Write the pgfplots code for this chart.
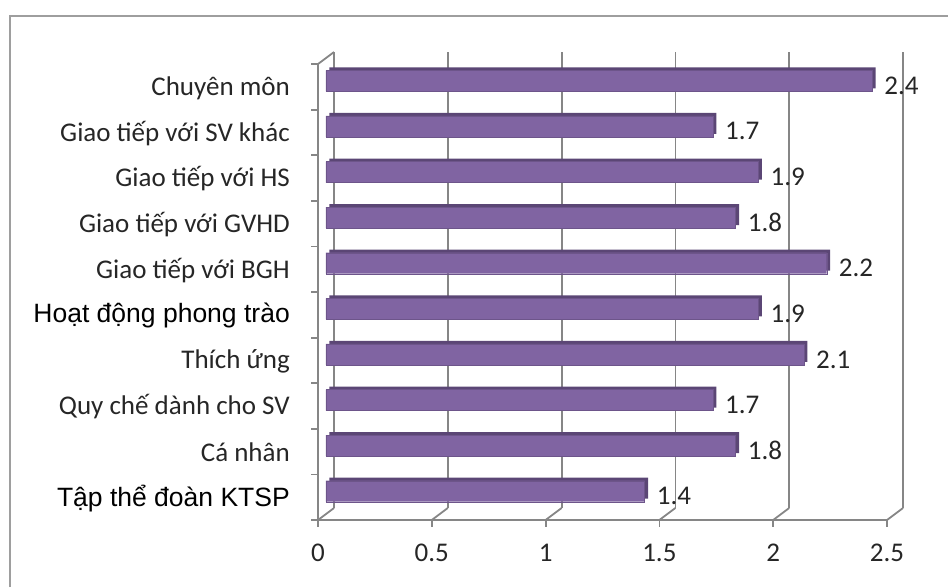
\documentclass[border=0pt]{standalone}
\usepackage{pgfplots}
\pgfplotsset{compat=1.18}
\usepackage{fontspec}
\setmainfont{Carlito}
\newfontfamily\arialf{Liberation Sans}
\definecolor{barface}{HTML}{8064A2}
\definecolor{bardark}{HTML}{5B4675}
\definecolor{gridgray}{HTML}{868686}
\definecolor{txt}{HTML}{262626}

\pgfplotstableread{
y  v
0  1.4
1  1.8
2  1.7
3  2.1
4  1.9
5  2.2
6  1.8
7  1.9
8  1.7
9  2.4
}\scores

\begin{document}
\begin{tikzpicture}
\useasboundingbox (0pt,0pt) rectangle (948pt,587pt);
% outer chart frame (only top and left edges are inside the picture)
\draw[gridgray!80, line width=1.8pt] (10pt,0pt) -- (10pt,571pt) -- (948pt,571pt);

\begin{axis}[
  at={(326pt,73pt)}, anchor=south west,
  scale only axis, width=569pt, height=456pt,
  xmin=0, xmax=2.5, ymin=-0.5, ymax=9.5,
  clip=false,
  axis line style={draw=none},
  major tick length=0pt,
  xtick={0,0.5,1,1.5,2,2.5},
  ytick={0,...,9},
  yticklabels={
    {\arialf\fontsize{26.5}{28}\selectfont\color{black}Tập thể đoàn KTSP},
    Cá nhân, Quy chế dành cho SV, Thích ứng,
    {\arialf\fontsize{26.5}{28}\selectfont\color{black}Hoạt động phong trào},
    Giao tiếp với BGH, Giao tiếp với GVHD, Giao tiếp với HS,
    Giao tiếp với SV khác, Chuyên môn},
  /pgf/number format/assume math mode=true,
  tick label style={font=\fontsize{27}{29}\selectfont, text=txt},
  xticklabel style={anchor=north, inner sep=0pt, xshift=-8pt, yshift=-30pt},
  yticklabel style={anchor=east, inner sep=0pt, xshift=-36pt, yshift=-7pt},
]
% back wall gridlines and floor diagonals
\pgfplotsinvokeforeach{0,0.5,1,1.5,2,2.5}{
  \draw[gridgray, line width=1.8pt] ([shift={(8pt,6pt)}]axis cs:#1,-0.5) -- ([shift={(8pt,6pt)}]axis cs:#1,9.5);
  \draw[gridgray, line width=1.8pt] ([shift={(-8pt,-6pt)}]axis cs:#1,-0.5) -- ([shift={(8pt,6pt)}]axis cs:#1,-0.5);
  \draw[gridgray, line width=1.8pt] ([shift={(-8pt,-6pt)}]axis cs:#1,-0.5) -- ++(0pt,-7pt);
}
% front floor line and front left axis
\draw[gridgray, line width=1.8pt] ([shift={(-8pt,-6pt)}]axis cs:0,-0.5) -- ([shift={(-8pt,-6pt)}]axis cs:2.5,-0.5);
\draw[gridgray, line width=1.8pt] ([shift={(-8pt,-6pt)}]axis cs:0,-0.5) -- ([shift={(-8pt,-6pt)}]axis cs:0,9.5) -- ([shift={(8pt,6pt)}]axis cs:0,9.5);
\pgfplotsinvokeforeach{-0.5,0.5,1.5,2.5,3.5,4.5,5.5,6.5,7.5,8.5,9.5}{
  \draw[gridgray, line width=1.8pt] ([shift={(-8pt,-6pt)}]axis cs:0,#1) -- ++(-7pt,0pt);
}
% bars: darker extrusion behind, then the front face
\addplot[xbar, bar width=21pt, bar shift=0pt, fill=bardark, draw=none, xshift=3.5pt, yshift=3pt]
  table[x=v, y=y] {\scores};
\addplot[xbar, bar width=21pt, bar shift=0pt, fill=barface, draw=barface!85!black, line width=0.4pt,
  nodes near coords, point meta=explicit symbolic,
  every node near coord/.append style={anchor=west, inner sep=0pt, xshift=12pt, yshift=-5pt,
    font=\fontsize{27}{29}\selectfont, text=txt}]
  table[x=v, y=y, meta=v] {\scores};
\end{axis}
\end{tikzpicture}
\end{document}
